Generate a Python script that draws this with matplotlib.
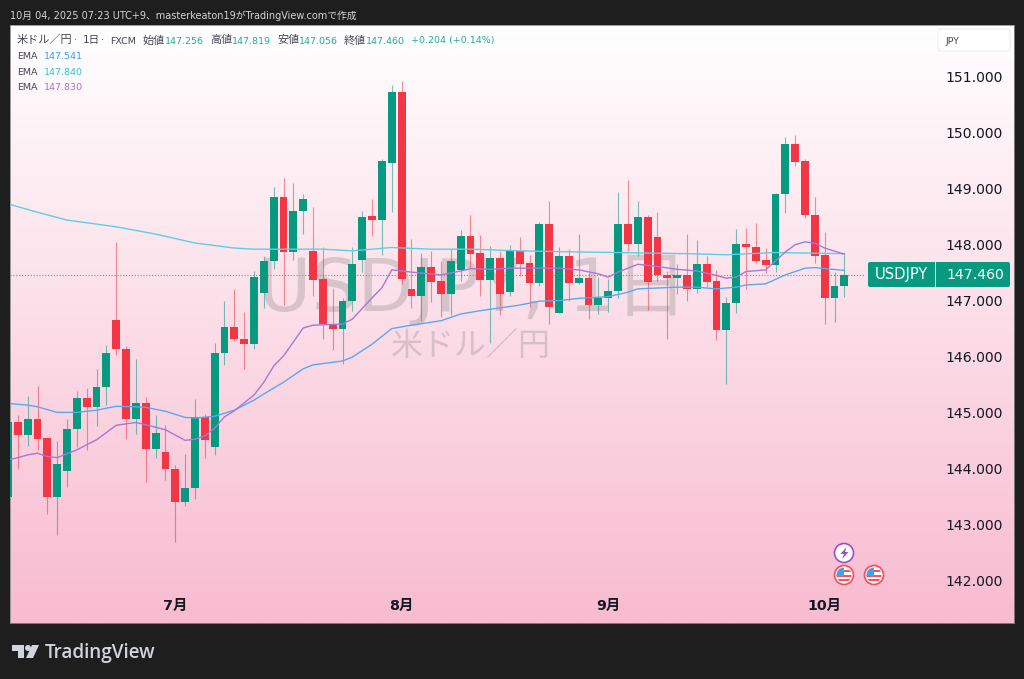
import matplotlib
matplotlib.use("Agg")
import matplotlib.pyplot as plt
import numpy as np
from matplotlib.patches import Circle, FancyBboxPatch, Polygon, Rectangle

plt.rcParams['font.family'] = ['DejaVu Sans', 'Noto Sans CJK JP']

# daily candles, from the left edge of the chart to Oct 3
opens = [143.49, 144.82, 144.60, 144.88, 144.54, 143.48, 143.96, 144.70, 145.26, 145.10,
         145.45, 146.66, 146.13, 144.88, 145.16, 144.35, 144.30, 143.98, 143.39, 143.64,
         144.91, 144.38, 146.06, 146.53, 146.31, 146.23, 147.13, 147.70, 148.85, 147.87,
         148.60, 147.89, 147.38, 146.59, 146.50, 146.99, 147.72, 148.51, 148.45, 149.47,
         150.73, 147.20, 147.08, 147.61, 147.35, 147.11, 147.55, 148.16, 147.85, 147.37,
         147.76, 147.16, 147.88, 147.67, 147.31, 148.37, 146.77, 147.79, 147.31, 147.40,
         146.93, 147.04, 147.17, 148.37, 148.02, 148.49, 148.13, 147.46, 147.41, 147.46,
         147.20, 147.65, 147.35, 146.47, 146.95, 148.01, 147.95, 147.72, 147.64, 148.90,
         149.80, 149.49, 148.54, 147.81, 147.04, 147.256]
highs = [145.44, 144.95, 145.29, 145.47, 144.55, 144.49, 144.88, 145.39, 145.44, 145.78,
         146.21, 148.04, 146.18, 145.96, 145.27, 144.95, 144.78, 144.06, 144.26, 145.24,
         144.98, 146.25, 146.99, 147.20, 146.80, 147.53, 147.79, 149.03, 149.20, 149.10,
         148.90, 148.68, 147.95, 147.22, 147.04, 147.95, 148.60, 148.82, 149.53, 150.85,
         150.93, 148.10, 147.85, 147.89, 147.71, 147.92, 148.26, 148.53, 148.17, 147.97,
         147.88, 147.99, 148.13, 147.82, 148.41, 148.79, 147.95, 147.92, 148.19, 147.49,
         147.42, 147.39, 148.95, 149.15, 148.79, 148.53, 148.59, 147.53, 147.65, 148.19,
         148.08, 147.79, 147.55, 147.06, 148.28, 148.30, 148.39, 147.94, 148.92, 149.93,
         149.97, 149.53, 148.86, 148.23, 147.52, 147.819]
lows = [143.25, 143.98, 144.40, 144.33, 143.19, 142.80, 143.66, 144.38, 144.33, 144.75,
        145.13, 146.02, 144.52, 144.62, 143.76, 144.18, 143.79, 142.69, 143.33, 143.45,
        144.18, 144.24, 145.84, 146.27, 145.78, 146.14, 146.86, 147.56, 146.92, 147.73,
        148.19, 147.08, 146.32, 146.12, 145.86, 146.81, 147.52, 148.16, 147.82, 148.59,
        147.30, 146.86, 146.64, 146.98, 146.70, 146.74, 147.35, 147.58, 147.09, 146.24,
        146.74, 147.08, 147.44, 146.89, 147.26, 146.58, 146.77, 147.00, 147.30, 146.67,
        146.76, 146.80, 147.05, 147.89, 147.80, 146.83, 147.35, 146.32, 147.11, 147.00,
        147.13, 147.24, 146.30, 145.50, 146.78, 147.21, 147.67, 147.49, 147.52, 148.57,
        149.41, 148.48, 147.67, 146.59, 146.61, 147.056]
closes = [144.83, 144.60, 144.88, 144.52, 143.48, 144.08, 144.70, 145.26, 145.10, 145.45,
          146.07, 146.13, 144.88, 145.16, 144.35, 144.63, 143.98, 143.39, 143.64, 144.91,
          144.51, 146.07, 146.53, 146.31, 146.23, 147.42, 147.70, 148.85, 147.87, 148.61,
          148.81, 147.37, 146.58, 146.50, 147.00, 147.65, 148.50, 148.45, 149.49, 150.73,
          147.38, 147.08, 147.61, 147.34, 147.11, 147.71, 148.16, 147.83, 147.37, 147.76,
          147.12, 147.88, 147.65, 147.31, 148.37, 146.89, 147.79, 147.31, 147.40, 146.93,
          147.05, 147.18, 148.37, 148.02, 148.49, 147.34, 147.46, 147.41, 147.46, 147.20,
          147.65, 147.34, 146.47, 146.96, 148.01, 147.95, 147.71, 147.64, 148.91, 149.80,
          149.48, 148.53, 147.80, 147.04, 147.26, 147.46]

# EMA lines read at bar numbers where they bend
ema_long_bars = [0, 3, 6, 11, 15, 19, 23, 25, 32, 35, 39, 43, 47, 52, 58, 62, 69, 73, 78, 85]
ema_long = [148.73, 148.58, 148.44, 148.32, 148.19, 148.03, 147.94, 147.92, 147.92, 147.89,
            147.95, 147.92, 147.92, 147.89, 147.87, 147.86, 147.84, 147.82, 147.86, 147.84]
ema_mid_bars = [0, 2, 3, 5, 7, 9, 11, 13, 14, 16, 18, 19, 21, 23, 25, 26, 28, 30, 31, 34,
                35, 37, 39, 41, 44, 46, 48, 50, 52, 54, 56, 58, 61, 63, 64, 68, 70, 72, 74,
                75, 77, 79, 81, 82, 85]
ema_mid = [145.16, 145.13, 145.10, 145.00, 145.00, 145.04, 145.11, 145.10, 145.09, 145.02,
           144.91, 144.90, 144.93, 145.04, 145.22, 145.33, 145.54, 145.78, 145.85, 145.92,
           145.99, 146.22, 146.50, 146.56, 146.64, 146.76, 146.82, 146.87, 146.92, 146.99,
           147.00, 147.04, 147.07, 147.15, 147.21, 147.24, 147.24, 147.21, 147.24, 147.28,
           147.30, 147.46, 147.58, 147.59, 147.54]
ema_short_bars = [0, 1, 2, 3, 4, 5, 6, 7, 9, 11, 13, 14, 16, 18, 19, 20, 21, 22, 23, 24, 25,
                  26, 27, 28, 30, 31, 34, 35, 37, 38, 39, 41, 44, 46, 47, 49, 51, 54, 56,
                  58, 60, 61, 62, 64, 66, 68, 70, 72, 73, 74, 75, 77, 79, 80, 81, 82, 83, 85]
ema_short = [144.15, 144.19, 144.24, 144.27, 144.21, 144.19, 144.26, 144.33, 144.51, 144.77,
             144.82, 144.78, 144.69, 144.50, 144.52, 144.58, 144.72, 144.92, 145.03, 145.17,
             145.31, 145.54, 145.83, 146.01, 146.51, 146.56, 146.58, 146.67, 147.05, 147.23,
             147.55, 147.51, 147.46, 147.53, 147.57, 147.56, 147.58, 147.58, 147.58, 147.55,
             147.48, 147.42, 147.51, 147.65, 147.61, 147.56, 147.53, 147.45, 147.40, 147.42,
             147.52, 147.55, 147.87, 148.00, 148.05, 148.03, 147.94, 147.83]

price_ticks = [142, 143, 144, 145, 146, 147, 148, 149, 150, 151]
month_bars = [17, 40, 61, 83]
month_labels = ['7月', '8月', '9月', '10月']
last_price = 147.46

GREEN = '#089981'
RED = '#F23645'
FRAME = '#1E1E1E'

W, H = 1024, 679
fig = plt.figure(figsize=(W / 100, H / 100), dpi=100, facecolor=FRAME)

# panel is x 10..1014, y 25..623 in image pixels
ax = fig.add_axes([10 / W, 1 - 623 / H, 1004 / W, 598 / H])
grad = np.linspace(0, 1, 256).reshape(-1, 1)
top = np.array([255, 255, 255]) / 255
bottom = np.array([248, 187, 208]) / 255
img = (top + (bottom - top) * grad[..., None]).reshape(256, 1, 3)
ax.imshow(img, extent=(0, 1, 0, 1), transform=ax.transAxes, aspect='auto', zorder=0)

x = np.arange(len(opens))
o = np.array(opens)
c = np.array(closes)
colors = [GREEN if b >= a else RED for a, b in zip(o, c)]

ax.vlines(x, lows, highs, colors=colors, linewidth=0.8, alpha=0.55, zorder=3)
ax.bar(x, np.maximum(np.abs(c - o), 0.02), bottom=np.minimum(o, c), width=0.8, color=colors,
       linewidth=0, zorder=4)

ax.plot(ema_long_bars, ema_long, color='#5CCFE6', lw=1.0, zorder=5)
ax.plot(ema_mid_bars, ema_mid, color='#5AA9F0', lw=1.0, zorder=5)
ax.plot(ema_short_bars, ema_short, color='#A678D8', lw=1.0, zorder=5)

ax.plot([0.2, 87], [last_price, last_price], color='#3FAF9F', lw=0.8, ls=(0, (1, 1.6)), zorder=2)

ax.set_xlim((10 - 8) / 9.84, (1014 - 8) / 9.84)
ax.set_ylim(151 - 546 / 55.9, 151 + 52 / 55.9)

ax.yaxis.tick_right()
ax.set_yticks(price_ticks)
ax.set_yticklabels([f'{p:.3f}' for p in price_ticks], ha='right', fontsize=10.1, color='#131722')
ax.set_xticks(month_bars)
ax.set_xticklabels(month_labels, fontsize=10.3, color='#131722', fontweight='bold')
ax.tick_params(axis='y', length=0, pad=-8)
ax.tick_params(axis='x', length=0, pad=-17)
for s in ax.spines.values():
    s.set_color('#8A8A8A')
    s.set_linewidth(0.6)

# everything else is placed in image pixels
ov = fig.add_axes([0, 0, 1, 1], facecolor='none')
ov.set_xlim(0, W)
ov.set_ylim(H, 0)
ov.axis('off')

# watermark has to sit under the candles, so it goes on the main axes in pixel terms
to_px = ov.transData
ax.text(473, 290, 'USDJPY, 1日', transform=to_px, fontsize=52.5, color='#787878', alpha=0.27,
        ha='center', va='center', zorder=1)
ax.text(471, 347, '米ドル／円', transform=to_px, fontsize=23, color='#787878', alpha=0.27,
        ha='center', va='center', zorder=1)

ov.text(10, 18.7, '10月 04, 2025 07:23 UTC+9、masterkeaton19がTradingView.comで作成',
        color='#D4D4D4', fontsize=7.05, va='baseline')

DARK = '#434651'
VAL = '#22AB94'
for xp, txt, col, fs in [(17, '米ドル／円', DARK, 8), (74, '·', DARK, 6.8), (83, '1日', DARK, 7.6),
                         (101, '·', DARK, 6.8), (110, 'FXCM', DARK, 6.8),
                         (143, '始値', DARK, 8), (165, '147.256', VAL, 6.8),
                         (210, '高値', DARK, 8), (232, '147.819', VAL, 6.8),
                         (277, '安値', DARK, 8), (299, '147.056', VAL, 6.8),
                         (344, '終値', DARK, 8), (366, '147.460', VAL, 6.8),
                         (411, '+0.204 (+0.14%)', VAL, 6.8)]:
    ov.text(xp, 43.5, txt, color=col, fontsize=fs, va='baseline')
for yp, val, col in [(59.3, '147.541', '#2E9FF5'), (74.7, '147.840', '#26C6DA'), (90, '147.830', '#AB6FD8')]:
    ov.text(17, yp, 'EMA', color=DARK, fontsize=6.8, va='baseline')
    ov.text(44, yp, val, color=col, fontsize=6.8, va='baseline')

# JPY button
ov.add_patch(FancyBboxPatch((938, 29), 72, 22, boxstyle='round,pad=0,rounding_size=3',
                            fc='#FFFFFF', ec='#EEEEF0', lw=0.8))
ov.text(946, 44, 'JPY', color=DARK, fontsize=6.8, va='baseline')

# last price tag
ov.add_patch(FancyBboxPatch((868, 262), 142, 25, boxstyle='round,pad=0,rounding_size=2',
                            fc=GREEN, ec='none'))
ov.plot([934.5, 934.5], [262, 287], color='#FFFFFF', lw=0.7, alpha=0.8)
ov.text(901, 275, 'USDJPY', color='white', fontsize=10.6, ha='center', va='center', fontweight='medium')
ov.text(975, 275, '147.460', color='white', fontsize=10.1, ha='center', va='center')

# event icons
ov.add_patch(Circle((844, 553), 9.5, fc='white', ec='#9C4FC4', lw=1.2))
ov.add_patch(Polygon([(846.5, 547), (840.5, 554), (844, 554), (842, 559), (848.5, 552), (845, 552)],
                     fc='#9C4FC4', ec='none'))
for cx in (844, 874):
    ov.add_patch(Circle((cx, 575), 9.5, fc='white', ec='#F7525F', lw=1.3))
    inner = Circle((cx, 575), 7.5, transform=ov.transData)
    for r in [Rectangle((cx - 8, 575), 16, 2.2, fc='#F7525F', ec='none'),
              Rectangle((cx - 8, 579), 16, 2, fc='#F7525F', ec='none'),
              Rectangle((cx, 570), 8, 2, fc='#F7525F', ec='none'),
              Rectangle((cx - 8, 567), 8, 9, fc='#42A0F0', ec='none')]:
        ov.add_patch(r)
        r.set_clip_path(inner)

# TradingView logo
LOGO = '#D1D4DC'
ov.add_patch(Polygon([(11.5, 645), (24, 645), (24, 658), (18, 658), (18, 651), (11.5, 651)], fc=LOGO, ec='none'))
ov.add_patch(Circle((28, 648), 3, fc=LOGO, ec='none'))
ov.add_patch(Polygon([(32, 645), (39, 645), (33, 658), (26, 658)], fc=LOGO, ec='none'))
ov.text(45, 658, 'TradingView', color=LOGO, fontsize=13.6, va='baseline', fontweight='semibold',
        family=['Open Sans', 'DejaVu Sans'])

fig.savefig('out.png', dpi=100, facecolor=FRAME)
